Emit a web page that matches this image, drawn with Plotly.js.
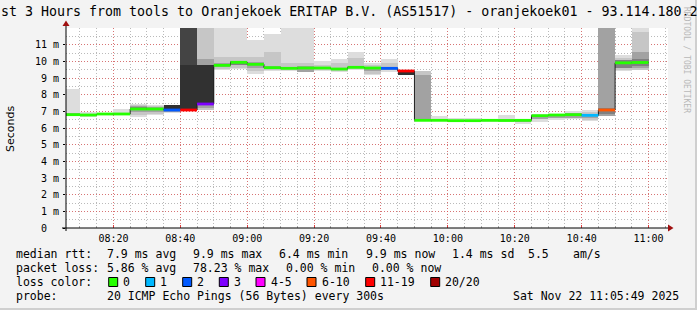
<!DOCTYPE html>
<html><head><meta charset="utf-8">
<script src="https://cdn.plot.ly/plotly-3.0.1.min.js"></script>
<style>html,body{margin:0;padding:0;background:#f3f3f3;overflow:hidden}</style>
</head><body>
<div id="chart" style="width:697px;height:310px"></div>
<script>
// ---------------- data ----------------
const day = '2025-11-22';
const slots = ['08:05','08:10','08:15','08:20','08:25','08:30','08:35','08:40','08:45','08:50',
  '08:55','09:00','09:05','09:10','09:15','09:20','09:25','09:30','09:35','09:40',
  '09:45','09:50','09:55','10:00','10:05','10:10','10:15','10:20','10:25','10:30',
  '10:35','10:40','10:45','10:50','10:55'];
// median rtt (ms)
const median = [6.80,6.78,6.84,6.84,7.14,7.14,7.08,7.08,7.44,9.76,
  9.94,9.82,9.62,9.58,9.60,9.60,9.54,9.64,9.60,9.58,
  9.42,6.46,6.46,6.44,6.44,6.46,6.45,6.46,6.74,6.78,
  6.80,6.76,7.08,9.91,9.93];
// lost pings out of 20
const lossPings = [0,0,0,0,0,0,2,15.6,3,0,
  0,0,0,0,0,0,0,0,0,2,
  11,0,0,0,0,0,0,0,0,0,
  0,1,7,0,0];
// smoke bands (ms), outermost (light) to innermost (dark); null = none
const smoke1 = [[6.70,8.36],[6.66,6.98],[6.78,6.90],[6.78,7.12],[6.66,7.42],[6.78,7.40],[6.92,7.38],null,null,[9.50,12],
  [9.56,12],[9.26,11.26],[9.40,11.62],[9.40,12],[9.34,12],[9.44,10.00],[9.36,10.16],[9.50,10.56],[9.16,9.92],[9.36,10.16],
  null,null,[6.42,6.70],[6.38,6.62],[6.34,6.58],[6.38,6.56],[6.38,6.76],[6.22,6.56],[6.38,6.82],[6.50,6.86],
  [6.52,7.00],[6.40,7.06],null,[9.40,10.40],[9.46,12]];
const smoke2 = [null,null,null,null,[6.80,7.36],[6.86,7.32],null,null,[7.06,12],[9.56,10.26],
  [9.62,10.26],[9.40,10.26],[9.50,10.56],[9.50,9.90],[9.50,9.90],[9.50,9.80],[9.44,9.90],[9.56,10.20],[9.26,9.78],[9.46,9.90],
  null,[6.50,9.42],null,null,null,null,null,null,null,null,
  null,[6.50,6.94],null,[9.46,10.20],[9.50,11.76]];
const smoke3 = [[6.74,6.88],[6.72,6.84],[6.80,6.87],[6.80,6.90],[6.96,7.30],[6.96,7.24],[6.98,7.12],null,[7.20,10.16],[9.64,9.90],
  null,[9.60,9.98],[9.56,9.72],[9.52,9.66],[9.36,9.72],[9.54,9.66],[9.48,9.62],[9.60,9.72],[9.40,9.66],[9.50,9.66],
  null,[6.52,9.16],[6.44,6.52],[6.40,6.50],[6.38,6.50],[6.40,6.50],[6.42,6.52],[6.36,6.50],[6.56,6.80],[6.60,6.82],
  [6.60,6.90],[6.60,6.86],[6.72,12],null,[9.60,10.56]];
const smoke4 = [null,null,null,null,[7.10,7.28],null,null,[9.76,12],null,null,
  [9.80,10.04],null,null,null,null,null,null,null,null,null,
  null,null,null,null,null,null,null,null,null,null,
  null,null,[6.84,7.20],[9.60,10.10],[9.70,10.16]];
const smoke5 = [null,null,null,null,null,null,[7.08,7.36],[7.08,9.76],[7.44,9.76],null,
  null,null,null,null,null,null,null,null,null,null,
  [9.16,9.42],null,null,null,null,null,null,null,null,null,
  null,null,null,null,null];

const xTickLabels = ['08:20','08:40','09:00','09:20','09:40','10:00','10:20','10:40','11:00'];
const yTickValues = [0,1,2,3,4,5,6,7,8,9,10,11];
const yTickLabels = ['0\u00a0\u00a0','1 m','2 m','3 m','4 m','5 m','6 m','7 m','8 m','9 m','10 m','11 m'];
const lossBuckets = ['0','1','2','3','4-5','6-10','11-19','20/20'];
const lossLow = [0,1,2,3,4,6,11,20];
const lossHigh = [1,2,3,4,6,11,20,21];

const statRows = [
  ['median rtt:', '7.9 ms avg', '9.9 ms max', '6.4 ms min', '9.9 ms now', '1.4 ms sd', '5.5', 'am/s'],
  ['packet loss:', '5.86 % avg', '78.23 % max', '0.00 % min', '0.00 % now'],
];
const probeText = ['probe:', '20 ICMP Echo Pings (56 Bytes) every 300s', 'Sat Nov 22 11:05:49 2025'];
const titleText = 'st 3 Hours from tools to Oranjekoek ERITAP B.V. (AS51517) - oranjekoek01 - 93.114.180.2';

// ---------------- styles ----------------
const lossColors = ['#26ff00','#00b8ff','#0059ff','#7e00ff','#ff00ff','#ff5500','#ff0000','#a10000'];
const smokeColors = ['#dddddd','#c6c6c6','#a2a2a2','#484848','#313131'];
const STEP = 300000; // rrd step, ms

const W=697,H=310,ML=66,MR=29,MT=28,MB=82;
const PW=W-ML-MR, PH=H-MT-MB;
const px = x => (x-ML)/PW;
const py = y => (H-MB-y)/PH;

function t(hhmm){ return day+' '+hhmm+':00'; }
function plus5(hhmm){ let [h,m]=hhmm.split(':').map(Number); m+=5; if(m>=60){m-=60;h+=1;} return String(h).padStart(2,'0')+':'+String(m).padStart(2,'0'); }

const traces = [];
[smoke1,smoke2,smoke3,smoke4,smoke5].forEach((band,k)=>{
  const xs=[],bs=[],ys=[];
  band.forEach((b,i)=>{ if(b){ xs.push(t(slots[i])); bs.push(b[0]); ys.push(b[1]-b[0]); } });
  traces.push({type:'bar', x:xs, base:bs, y:ys, width:STEP, offset:0,
    marker:{color: k===3 ? xs.map((_,j)=> bs[j]>9.7 && ys[j]>2 ? '#444444' : '#808080') : smokeColors[k], line:{width:0}},
    hoverinfo:'skip', showlegend:false});
});
// black median step line
const mx = slots.map(t).concat([t(plus5(slots[slots.length-1]))]);
const my = median.concat([median[median.length-1]]);
traces.push({type:'scatter', mode:'lines', x:mx, y:my, line:{shape:'hv', color:'#202020', width:1}, hoverinfo:'skip', showlegend:false});
// colored median segments by loss
lossBuckets.forEach((b,k)=>{
  const xs=[],ys=[];
  median.forEach((m,i)=>{
    const l=lossPings[i];
    if(l>=lossLow[k] && l<lossHigh[k]){ xs.push(t(slots[i]), t(plus5(slots[i])), null); ys.push(m,m,null); }
  });
  if(xs.length) traces.push({type:'scatter', mode:'lines', x:xs, y:ys, connectgaps:false,
    line:{color:lossColors[k], width:2.8}, hoverinfo:'skip', showlegend:false});
});

const mono = 'DejaVu Sans Mono';
const legFont = {family:mono, size:11.5, color:'#000'};
const annotations = [];
const shapes = [];

// title
annotations.push({xref:'paper',yref:'paper',x:px(-1),y:py(12),xanchor:'left',yanchor:'middle',
  text:titleText, showarrow:false, font:{family:mono,size:13.3,color:'#000'}});
// y title
annotations.push({xref:'paper',yref:'paper',x:px(10),y:py(129),xanchor:'center',yanchor:'middle',
  text:'Seconds', textangle:-90, showarrow:false, font:{family:'DejaVu Sans',size:11,color:'#000'}});
// watermark
annotations.push({xref:'paper',yref:'paper',x:px(687),y:py(60),xanchor:'center',yanchor:'middle',
  text:'RRDTOOL / TOBI OETIKER', textangle:90, showarrow:false, font:{family:mono,size:8,color:'#b8b8b8'}});

const row1x=[16,107.3,193,278.7,366,451.7,528,572.7];
const row2x=[16,107.3,193.3,286,372];
const rowY=[254.3,268.3,282.3,296];
function addText(x,y,s){ annotations.push({xref:'paper',yref:'paper',x:px(x-2),y:py(y),xanchor:'left',yanchor:'middle',text:s,showarrow:false,font:legFont}); }
statRows[0].forEach((s,i)=>addText(row1x[i],rowY[0],s));
statRows[1].forEach((s,i)=>addText(row2x[i],rowY[1],s));
addText(16,rowY[2],'loss color:');
const boxX=[108.7,145.7,182.7,219.3,256,307,365.7,430.7];
lossBuckets.forEach((b,k)=>{
  shapes.push({type:'rect',xref:'paper',yref:'paper',x0:px(boxX[k]),x1:px(boxX[k]+9),y0:py(277.5),y1:py(286.5),
    fillcolor:lossColors[k], line:{color:'#000',width:1}});
  addText(boxX[k]+14.7,rowY[2],b);
});
addText(16,rowY[3],probeText[0]);
addText(107.3,rowY[3],probeText[1]);
addText(513.3,rowY[3],probeText[2]);

// axis lines + arrows
shapes.push({type:'line',xref:'paper',yref:'paper',x0:px(62),x1:px(669),y0:0,y1:0,line:{color:'#000',width:1}});
shapes.push({type:'line',xref:'paper',yref:'paper',x0:0,x1:0,y0:py(231),y1:py(23),line:{color:'#000',width:1}});
shapes.push({type:'path',xref:'paper',yref:'paper',
  path:`M ${px(668)} ${py(224.5)} L ${px(673.5)} ${py(228)} L ${px(668)} ${py(231.5)} Z`, fillcolor:'#a01010', line:{width:0}});
shapes.push({type:'path',xref:'paper',yref:'paper',
  path:`M ${px(62.5)} ${py(26)} L ${px(66)} ${py(20.5)} L ${px(69.5)} ${py(26)} Z`, fillcolor:'#a01010', line:{width:0}});
// frame
shapes.push({type:'rect',xref:'paper',yref:'paper',x0:px(695),x1:px(697),y0:py(0),y1:py(310),fillcolor:'#cfcfcf',line:{width:0}});
shapes.push({type:'rect',xref:'paper',yref:'paper',x0:px(0),x1:px(697),y0:py(308),y1:py(310),fillcolor:'#cfcfcf',line:{width:0}});

const majorGrid = 'rgba(235,70,70,0.6)';
const minorGrid = 'rgba(130,130,130,0.55)';
const layout = {
  width:W, height:H, margin:{l:ML,r:MR,t:MT,b:MB,pad:0},
  paper_bgcolor:'#f3f3f3', plot_bgcolor:'#ffffff',
  barmode:'overlay', bargap:0, showlegend:false,
  xaxis:{type:'date', range:[day+' 08:05:49', day+' 11:05:49'],
    tickmode:'array', tickvals:xTickLabels.map(t), ticktext:xTickLabels,
    showgrid:true, gridcolor:majorGrid, griddash:'1px,2px', gridwidth:1,
    ticks:'inside', ticklen:3, tickcolor:'#e04040', ticklabelstandoff:3,
    tickfont:{family:mono,size:10,color:'#000'}, zeroline:false, showline:false, fixedrange:true,
    minor:{tickmode:'linear', tick0:day+' 08:00:00', dtick:STEP, showgrid:true, gridcolor:minorGrid,
      griddash:'1px,2px', ticks:'inside', ticklen:2, tickcolor:'#aaaaaa'}},
  yaxis:{range:[0,12], tickmode:'array', tickvals:yTickValues, ticktext:yTickLabels,
    showgrid:true, gridcolor:majorGrid, griddash:'1px,2px', gridwidth:1,
    ticks:'outside', ticklen:2, tickcolor:'#000', ticklabelstandoff:2,
    tickfont:{family:mono,size:10,color:'#000'}, zeroline:false, showline:false, fixedrange:true,
    minor:{tickmode:'linear', tick0:0, dtick:0.5, showgrid:true, gridcolor:minorGrid, griddash:'1px,2px'}},
  annotations, shapes
};
Plotly.newPlot('chart', traces, layout, {displayModeBar:false, staticPlot:true});
</script>
</body></html>
